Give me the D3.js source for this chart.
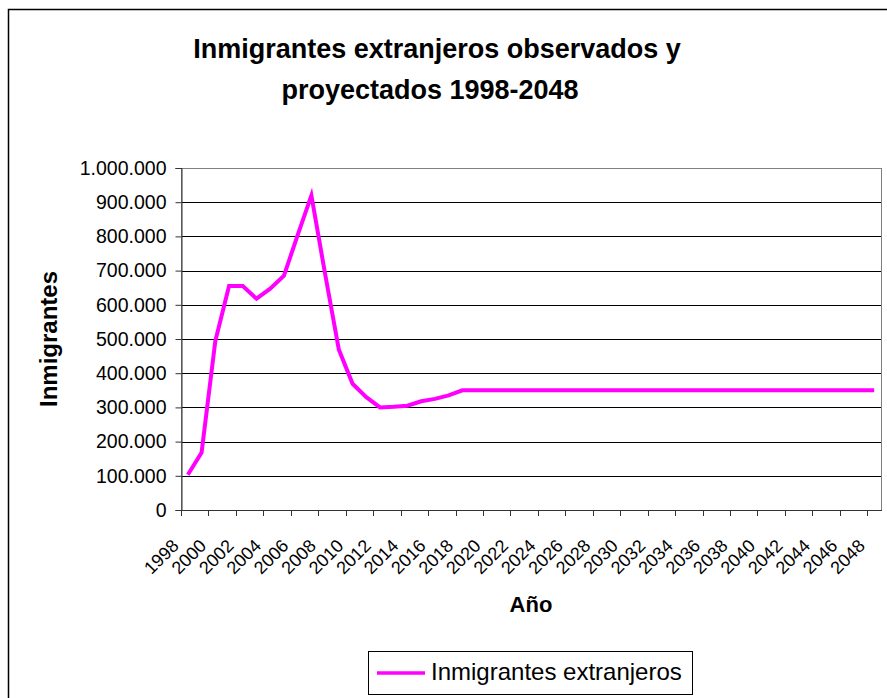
<!DOCTYPE html>
<html>
<head>
<meta charset="utf-8">
<script src="https://cdn.jsdelivr.net/npm/d3@7"></script>
<style>
  body { margin: 0; background: #fff; }
  svg { display: block; font-family: "Liberation Sans", Arial, sans-serif; }
</style>
</head>
<body>
<div id="chart"></div>
<script>
// Data
const years = d3.range(1998, 2049).map(String);
const inmigrantes = [
    103000, 168000, 494000, 655000, 655000, 618000, 647000, 685000, 804000, 920000,
    690000, 469000, 369000, 330000, 300000, 302000, 305000, 318000, 325000, 335000,
    350000, 350000, 350000, 350000, 350000, 350000, 350000, 350000, 350000, 350000,
    350000, 350000, 350000, 350000, 350000, 350000, 350000, 350000, 350000, 350000,
    350000, 350000, 350000, 350000, 350000, 350000, 350000, 350000, 350000, 350000,
    350000
];
const yTicks = [0, 100000, 200000, 300000, 400000, 500000, 600000, 700000, 800000, 900000, 1000000];
const titleLines = ["Inmigrantes extranjeros observados y", "proyectados 1998-2048"];
const seriesName = "Inmigrantes extranjeros";

// Set dimensions
const width = 887;
const height = 698;
const plot = { left: 181, right: 881, top: 168, bottom: 510 };

const svg = d3.select("#chart")
    .append("svg")
    .attr("width", width)
    .attr("height", height);

// Chart border
svg.append("rect")
    .attr("x", 8.5).attr("y", 9.5)
    .attr("width", 900).attr("height", 720)
    .attr("fill", "#fff")
    .attr("stroke", "#000")
    .attr("stroke-width", 1.5);

// Scales
const x = d3.scaleBand()
    .domain(years)
    .range([plot.left, plot.right]);

const y = d3.scaleLinear()
    .domain([0, 1000000])
    .range([plot.bottom, plot.top]);

const locale = d3.formatLocale({ decimal: ",", thousands: ".", grouping: [3], currency: ["", "€"] });
const fmt = locale.format(",d");

// Gridlines
svg.append("g")
    .selectAll("line")
    .data(yTicks.filter(d => d > 0 && d < 1000000))
    .enter()
    .append("line")
    .attr("x1", plot.left).attr("x2", plot.right)
    .attr("y1", d => Math.round(y(d)) + 0.5)
    .attr("y2", d => Math.round(y(d)) + 0.5)
    .attr("stroke", "#000");

// Plot border
svg.append("rect")
    .attr("x", plot.left + 0.5).attr("y", plot.top + 0.5)
    .attr("width", plot.right - plot.left)
    .attr("height", plot.bottom - plot.top)
    .attr("fill", "none")
    .attr("stroke", "#808080");

// Y axis
const yAxis = svg.append("g")
    .attr("transform", `translate(${plot.left + 0.5},0)`)
    .call(d3.axisLeft(y).tickValues(yTicks).tickFormat(fmt).tickSize(6).tickPadding(9));
yAxis.selectAll("path, line").attr("stroke", "#333");
yAxis.selectAll("text")
    .style("font-size", "19.5px")
    .style("font-family", "Liberation Sans, Arial, sans-serif")
    .attr("fill", "#000");

// X axis, ticks between categories every 2 years
const band = x.bandwidth();
const xTickPos = d3.range(0, years.length, 2).map(i => plot.left + i * band);
const xAxis = svg.append("g");
xAxis.append("line")
    .attr("x1", plot.left).attr("x2", plot.right + 1)
    .attr("y1", plot.bottom + 0.5).attr("y2", plot.bottom + 0.5)
    .attr("stroke", "#333");
xAxis.selectAll("tick")
    .data(xTickPos)
    .enter()
    .append("line")
    .attr("x1", d => Math.round(d) + 0.5).attr("x2", d => Math.round(d) + 0.5)
    .attr("y1", plot.bottom).attr("y2", plot.bottom + 6)
    .attr("stroke", "#333");
xAxis.selectAll("label")
    .data(years.filter((d, i) => i % 2 === 0))
    .enter()
    .append("text")
    .attr("transform", d => `translate(${x(d) + band / 2 - 8},${plot.bottom + 37}) rotate(-45)`)
    .attr("text-anchor", "end")
    .style("font-size", "18px")
    .text(d => d);

// Line
const line = d3.line()
    .x((d, i) => x(years[i]) + band / 2)
    .y(d => y(d));

svg.append("path")
    .datum(inmigrantes)
    .attr("d", line)
    .attr("fill", "none")
    .attr("stroke", "#ff00ff")
    .attr("stroke-width", 4)
    .attr("stroke-linejoin", "miter");

// Title
svg.selectAll("title-line")
    .data(titleLines)
    .enter()
    .append("text")
    .attr("x", (d, i) => i === 0 ? 437 : 430)
    .attr("y", (d, i) => i === 0 ? 58 : 99)
    .attr("text-anchor", "middle")
    .style("font-size", "27px")
    .style("font-weight", "bold")
    .text(d => d);

// Axis titles
svg.append("text")
    .attr("transform", `translate(57,${(plot.top + plot.bottom) / 2}) rotate(-90)`)
    .attr("text-anchor", "middle")
    .style("font-size", "24px")
    .style("font-weight", "bold")
    .text("Inmigrantes");

svg.append("text")
    .attr("x", (plot.left + plot.right) / 2)
    .attr("y", 612)
    .attr("text-anchor", "middle")
    .style("font-size", "22px")
    .style("font-weight", "bold")
    .text("Año");

// Legend
const legend = svg.append("g");
legend.append("rect")
    .attr("x", 368.5).attr("y", 651.5)
    .attr("width", 324).attr("height", 43)
    .attr("fill", "#fff")
    .attr("stroke", "#000");
legend.append("line")
    .attr("x1", 377).attr("x2", 425)
    .attr("y1", 673).attr("y2", 673)
    .attr("stroke", "#ff00ff")
    .attr("stroke-width", 3.5);
legend.append("text")
    .attr("x", 431).attr("y", 680)
    .style("font-size", "24px")
    .text(seriesName);
</script>
</body>
</html>
